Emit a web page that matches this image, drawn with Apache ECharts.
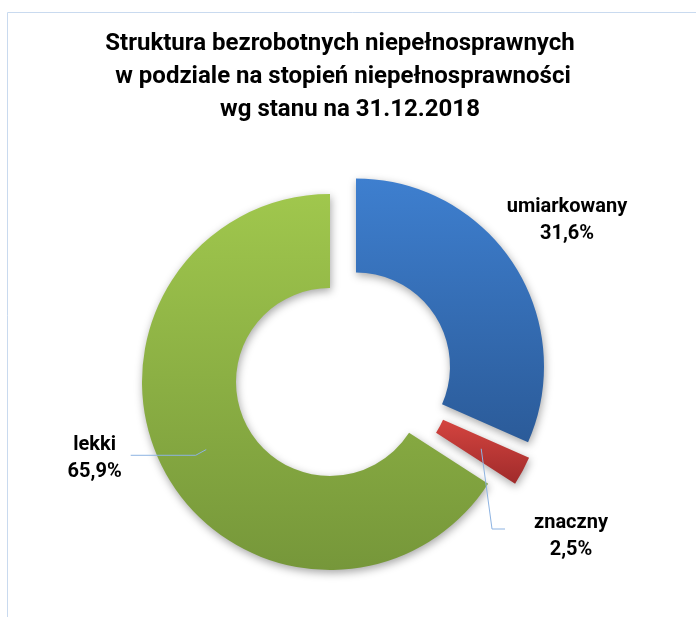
<!DOCTYPE html>
<html><head><meta charset="utf-8">
<script src="https://cdn.jsdelivr.net/npm/echarts@6/dist/echarts.min.js"></script>
<style>html,body{margin:0;padding:0;background:#fff}#c{width:696px;height:617px}</style>
</head><body><div id="c"></div>
<script>
const titleLines = ['Struktura bezrobotnych niepełnosprawnych', 'w podziale na stopień niepełnosprawności', 'wg stanu na 31.12.2018'];
const categories = ['umiarkowany', 'znaczny', 'lekki'];
const values = [31.6, 2.5, 65.9];
const topColors = ['#3e7fcf', '#d4443f', '#a0c74d'];
const bottomColors = ['#2b5b99', '#a02b2b', '#76973a'];

const FONT = 'Roboto';
const chart = echarts.init(document.getElementById('c'), null, {renderer: 'canvas'});
const centers = [[356, 366.5], [357, 382], [330, 382]];
const R_IN = 94, R_OUT = 188, R_LABEL = 141;
const titleX = [340, 343, 350];
const titleTop = [28, 61, 94];

function grad(i) {
  return new echarts.graphic.LinearGradient(0, 0, 0, 1, [
    {offset: 0, color: topColors[i]}, {offset: 1, color: bottomColors[i]}
  ]);
}
function fmt(v) { return v.toFixed(1).replace('.', ',') + '%'; }

function visualSeries(i) {
  return {
    type: 'pie', center: centers[i], radius: [R_IN, R_OUT], startAngle: 90, clockwise: true,
    silent: true, animation: false, z: 2,
    label: {show: false}, labelLine: {show: false}, emphasis: {disabled: true},
    data: categories.map((c, j) => ({
      name: c, value: values[j],
      itemStyle: j === i
        ? {color: grad(i), borderWidth: 0, shadowBlur: 8, shadowColor: 'rgba(0,0,0,0.35)', shadowOffsetY: 3, shadowOffsetX: 1}
        : {color: 'rgba(0,0,0,0)', borderWidth: 0}
    }))
  };
}

const labelText = {
  position: 'outside', color: '#000', fontFamily: FONT, fontWeight: 'bold', fontSize: 20, lineHeight: 27,
  formatter: p => '{a|' + p.name + '}\n{a|' + fmt(p.value) + '}',
  rich: {a: {align: 'center', color: '#000', fontFamily: FONT, fontWeight: 'bold', fontSize: 20, lineHeight: 27}}
};

function labelSeries(i, extra, labelExtra, lineExtra) {
  return Object.assign({
    type: 'pie', center: centers[i], radius: [R_IN, R_LABEL], startAngle: 90, clockwise: true,
    silent: true, animation: false, avoidLabelOverlap: false, z: 3,
    emphasis: {disabled: true},
    itemStyle: {color: 'rgba(0,0,0,0)', borderWidth: 0},
    label: Object.assign({}, labelText, labelExtra),
    labelLine: Object.assign({show: true, lineStyle: {color: '#8db3e2', width: 1}}, lineExtra),
    data: categories.map((c, j) => ({
      name: c, value: values[j],
      label: {show: j === i}, labelLine: {show: j === i && (lineExtra.show !== false)}
    }))
  }, extra);
}

const series = [
  visualSeries(2), visualSeries(0), visualSeries(1),
  labelSeries(0, {labelLayout: () => ({x: 567, y: 220, align: 'center', verticalAlign: 'middle'})}, {}, {show: false}),
  labelSeries(1, {labelLayout: () => ({x: 556.5, y: 529, align: 'center', verticalAlign: 'middle'})},
    {padding: [14, 0, 0, 29]}, {length: 10, length2: 13}),
  labelSeries(2, {}, {distanceToLabelLine: 9, padding: [6, 0, 0, 0]}, {length: 12, length2: 65})
];

chart.setOption({
  backgroundColor: '#fff',
  animation: false,
  title: titleLines.map((t, k) => ({
    text: t, left: titleX[k], top: titleTop[k], textAlign: 'center', padding: 0,
    textStyle: {fontFamily: FONT, fontWeight: 'bold', fontSize: 24, lineHeight: 32, color: '#000'}
  })),
  graphic: [{type: 'rect', silent: true, z: -10, shape: {x: 7.5, y: 12.5, width: 720, height: 720},
    style: {fill: 'none', stroke: '#c9daef', lineWidth: 1}}],
  series: series
});
</script></body></html>
